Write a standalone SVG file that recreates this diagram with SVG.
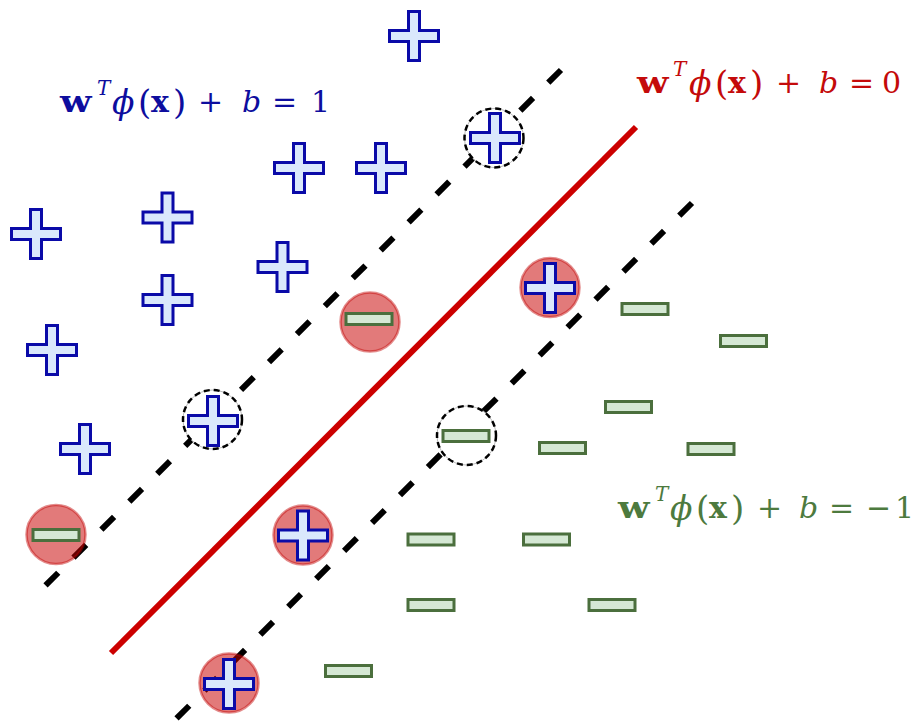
<svg xmlns="http://www.w3.org/2000/svg" xmlns:xlink="http://www.w3.org/1999/xlink" width="915" height="722" viewBox="0 0 915 722">
<style>
.plus{fill:#dae8fc;stroke:#0a0aa8;stroke-width:3;stroke-linejoin:miter}
.minus{fill:#d5e8d4;stroke:#4b6f3d;stroke-width:3}
.halo{fill:#c80000;fill-opacity:0.52;stroke:#c00000;stroke-opacity:0.45;stroke-width:2.5}
.sv{fill:#ffffff;stroke:#bbbbbb;stroke-width:1}
.svd{fill:none;stroke:#000000;stroke-width:2.5;stroke-dasharray:6 4}
.margin{fill:none;stroke:#000000;stroke-width:6;stroke-dasharray:18 21.5}
.hyper{fill:none;stroke:#cc0000;stroke-width:6}
.eq{font-family:"DejaVu Serif","Liberation Serif",serif;font-size:30px}
.b{font-weight:bold}
.i{font-style:italic}
.phi{font-style:italic;font-size:33px}
.par{font-size:34px}
.sup{font-size:20px;font-style:italic}
.blue{fill:#0d0d9e}
.red{fill:#c40a0a}
.green{fill:#4d7a3e}
</style>
<defs>
<path id="plus" class="plus" d="M -5.5 -24.5 H 5.5 V -5.5 H 24.5 V 5.5 H 5.5 V 24.5 H -5.5 V 5.5 H -24.5 V -5.5 H -5.5 Z"/>
<rect id="minus" class="minus" x="-23" y="-5.5" width="46" height="11"/>
</defs>
<rect x="0" y="0" width="915" height="722" fill="#ffffff"/>
<g id="connectors">
<path class="hyper" d="M 636 127 L 111 653"/>
<path class="margin" d="M 561 70 L 40 591"/>
<path class="margin" d="M 692 203 L 170 725"/>
</g>
<g id="p1"><use xlink:href="#plus" x="414" y="36"/></g>
<g id="p2"><use xlink:href="#plus" x="299" y="168"/></g>
<g id="p3"><use xlink:href="#plus" x="381" y="168"/></g>
<g id="p4"><use xlink:href="#plus" x="36" y="234"/></g>
<g id="p5"><use xlink:href="#plus" x="167.5" y="217.5"/></g>
<g id="p6"><use xlink:href="#plus" x="282.5" y="267"/></g>
<g id="p7"><use xlink:href="#plus" x="167.5" y="300"/></g>
<g id="p8"><use xlink:href="#plus" x="52" y="350"/></g>
<g id="p9"><use xlink:href="#plus" x="85" y="449"/></g>
<g id="p10"><circle class="sv" cx="494" cy="138" r="29.5"/><circle class="svd" cx="494" cy="138" r="29.5"/><use xlink:href="#plus" x="495" y="138"/></g>
<g id="p11"><circle class="sv" cx="212.5" cy="419.5" r="29.5"/><circle class="svd" cx="212.5" cy="419.5" r="29.5"/><use xlink:href="#plus" x="213" y="421"/></g>
<g id="p12"><circle class="halo" cx="550" cy="287.5" r="29.5"/><use xlink:href="#plus" x="550" y="288"/></g>
<g id="p13"><circle class="halo" cx="303" cy="535" r="29.5"/><use xlink:href="#plus" x="303" y="535.5"/></g>
<g id="p14"><circle class="halo" cx="229" cy="683" r="29.5"/><use xlink:href="#plus" x="229" y="684"/></g>
<g id="m1"><use xlink:href="#minus" x="645" y="309"/></g>
<g id="m2"><use xlink:href="#minus" x="743.5" y="341"/></g>
<g id="m3"><use xlink:href="#minus" x="628.5" y="407"/></g>
<g id="m4"><use xlink:href="#minus" x="562.5" y="448"/></g>
<g id="m5"><use xlink:href="#minus" x="711" y="449"/></g>
<g id="m6"><circle class="sv" cx="466.5" cy="435.5" r="29.5"/><circle class="svd" cx="466.5" cy="435.5" r="29.5"/><use xlink:href="#minus" x="466" y="436"/></g>
<g id="m7"><use xlink:href="#minus" x="431" y="539.5"/></g>
<g id="m8"><use xlink:href="#minus" x="546.5" y="539.5"/></g>
<g id="m9"><use xlink:href="#minus" x="431" y="605"/></g>
<g id="m10"><use xlink:href="#minus" x="612" y="605"/></g>
<g id="m11"><use xlink:href="#minus" x="348.5" y="671"/></g>
<g id="m12"><circle class="halo" cx="370" cy="322" r="29.5"/><use xlink:href="#minus" x="369" y="319"/></g>
<g id="m13"><circle class="halo" cx="56" cy="534.5" r="29.5"/><use xlink:href="#minus" x="56" y="535"/></g>
<g id="label-pos">
<text class="eq b blue" transform="translate(60 112) scale(1.22 1)">w</text>
<text class="eq blue" y="112"><tspan class="sup" x="97" y="95">T</tspan><tspan class="phi" x="112" y="114">ϕ</tspan><tspan class="par" x="138" y="114">(</tspan><tspan class="b" x="151" y="112">x</tspan><tspan class="par" x="173" y="114">)</tspan><tspan x="198" y="112">+</tspan><tspan class="i" x="242">b</tspan><tspan x="272">=</tspan><tspan x="311">1</tspan></text>
</g>
<g id="label-zero">
<text class="eq b red" transform="translate(637 93) scale(1.22 1)">w</text>
<text class="eq red" y="93"><tspan class="sup" x="673" y="76">T</tspan><tspan class="phi" x="689" y="95">ϕ</tspan><tspan class="par" x="715" y="95">(</tspan><tspan class="b" x="728" y="93">x</tspan><tspan class="par" x="750" y="95">)</tspan><tspan x="776" y="93">+</tspan><tspan class="i" x="819">b</tspan><tspan x="849">=</tspan><tspan x="882">0</tspan></text>
</g>
<g id="label-neg">
<text class="eq b green" transform="translate(618 518) scale(1.22 1)">w</text>
<text class="eq green" y="518"><tspan class="sup" x="655" y="501">T</tspan><tspan class="phi" x="670" y="520">ϕ</tspan><tspan class="par" x="696" y="520">(</tspan><tspan class="b" x="709" y="518">x</tspan><tspan class="par" x="731" y="520">)</tspan><tspan x="757" y="518">+</tspan><tspan class="i" x="799">b</tspan><tspan x="829">=</tspan><tspan x="866">−</tspan><tspan x="895">1</tspan></text>
</g>
</svg>
